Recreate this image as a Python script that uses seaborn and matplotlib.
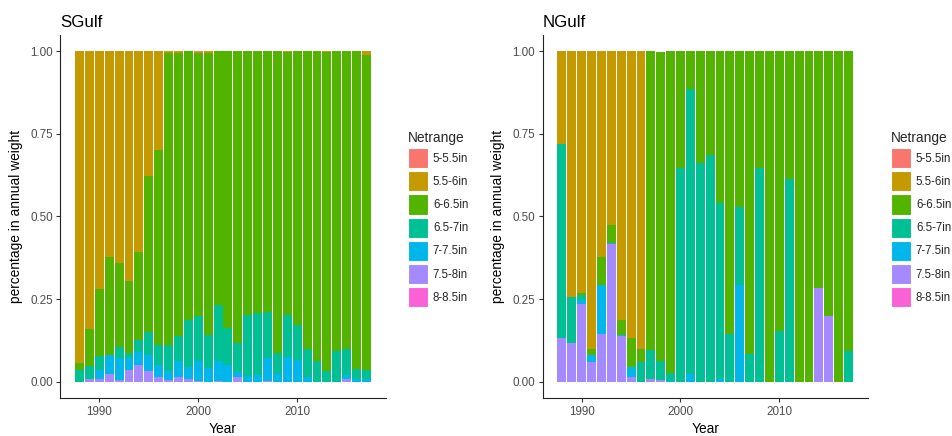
import matplotlib
matplotlib.use("Agg")
import matplotlib.pyplot as plt
from matplotlib.patches import Patch
import pandas as pd
import seaborn as sns

# ---- data: share of annual weight per net range, by year ----
years = list(range(1988, 2018))
netrange = ["5-5.5in", "5.5-6in", "6-6.5in", "6.5-7in", "7-7.5in", "7.5-8in", "8-8.5in"]
palette = ["#F8766D", "#C49A00", "#53B400", "#00C094", "#00B6EB", "#A58AFF", "#FB61D7"]

# SGulf
s_5_55 = [0, 0, 0, 0, 0, 0, 0, 0, 0, 0,
          0, 0, 0.002, 0, 0, 0, 0, 0, 0, 0,
          0, 0, 0, 0, 0, 0, 0, 0, 0, 0]
s_55_6 = [0.943, 0.842, 0.720, 0.622, 0.642, 0.695, 0.607, 0.378, 0.297, 0.005,
          0.004, 0, 0.003, 0.005, 0, 0, 0, 0, 0, 0,
          0, 0.003, 0, 0, 0, 0.003, 0, 0, 0, 0.011]
s_6_65 = [0.021, 0.111, 0.204, 0.297, 0.254, 0.219, 0.266, 0.473, 0.593, 0.884,
          0.858, 0.815, 0.798, 0.854, 0.768, 0.839, 0.882, 0.798, 0.792, 0.788,
          0.913, 0.795, 0.828, 0.903, 0.938, 0.965, 0.909, 0.903, 0.963, 0.953]
s_65_7 = [0.036, 0.040, 0.040, 0, 0.033, 0.015, 0.038, 0.068, 0.059, 0.080,
          0.076, 0.142, 0.135, 0.100, 0.170, 0.111, 0.088, 0.184, 0.187, 0.142,
          0.064, 0.128, 0.108, 0.084, 0.062, 0.032, 0.091, 0.076, 0.030, 0.029]
s_7_75 = [0, 0, 0.029, 0.059, 0.067, 0.035, 0.039, 0.048, 0.036, 0.027,
          0.049, 0.034, 0.059, 0.041, 0.059, 0.050, 0.017, 0.018, 0.021, 0.067,
          0.023, 0.074, 0.064, 0.013, 0, 0, 0, 0.014, 0.007, 0.007]
s_75_8 = [0, 0.007, 0.007, 0.022, 0.004, 0.036, 0.050, 0.033, 0.015, 0.004,
          0.013, 0.009, 0.003, 0, 0.003, 0, 0.013, 0, 0, 0.003,
          0, 0, 0, 0, 0, 0, 0, 0.007, 0, 0]
s_8_85 = [0] * 30

# NGulf
n_5_55 = [0] * 30
n_55_6 = [0.279, 0.743, 0.732, 0.901, 0.622, 0.525, 0.815, 0.867, 0.903, 0,
          0, 0, 0, 0, 0, 0, 0, 0, 0, 0,
          0, 0, 0, 0, 0, 0, 0, 0, 0, 0]
n_6_65 = [0, 0, 0.006, 0.018, 0.087, 0.055, 0.044, 0.088, 0.038, 0.906,
          0.938, 0.974, 0.352, 0.115, 0.338, 0.313, 0.459, 0.857, 0.472, 0.918,
          0.352, 1.0, 0.848, 0.387, 1.0, 1.0, 0.718, 0.803, 1.0, 0.908]
n_65_7 = [0.588, 0.140, 0.014, 0, 0, 0, 0, 0, 0.059, 0.085,
          0.058, 0.023, 0.648, 0.861, 0.662, 0.687, 0.532, 0.143, 0.235, 0.082,
          0.648, 0, 0.152, 0.613, 0, 0, 0, 0, 0, 0.092]
n_7_75 = [0.002, 0, 0.013, 0.022, 0.148, 0.004, 0.004, 0.031, 0, 0,
          0, 0.003, 0, 0.024, 0, 0, 0.009, 0, 0.293, 0,
          0, 0, 0, 0, 0, 0, 0, 0, 0, 0]
n_75_8 = [0.131, 0.117, 0.235, 0.059, 0.143, 0.416, 0.137, 0.014, 0, 0.009,
          0.004, 0, 0, 0, 0, 0, 0, 0, 0, 0,
          0, 0, 0, 0, 0, 0, 0.282, 0.197, 0, 0]
n_8_85 = [0] * 30

regions = {
    "SGulf": [s_5_55, s_55_6, s_6_65, s_65_7, s_7_75, s_75_8, s_8_85],
    "NGulf": [n_5_55, n_55_6, n_6_65, n_65_7, n_7_75, n_75_8, n_8_85],
}


def long_table(series):
    rows = []
    for label, vals in zip(netrange, series):
        for yr, v in zip(years, vals):
            rows.append({"Year": yr, "Netrange": label, "share": v})
    return pd.DataFrame(rows)


sns.set_style("white")
plt.rcParams["font.family"] = ["Liberation Sans", "DejaVu Sans"]

W, H = 952, 436
fig = plt.figure(figsize=(W / 100, H / 100), dpi=100)

axes_px = {"SGulf": (60.3, 35, 325.4, 363), "NGulf": (542.7, 35, 325.0, 363)}
legend_px = {"SGulf": (408, 131), "NGulf": (891, 131)}
color_map = dict(zip(netrange, palette))

for name, series in regions.items():
    x0, y0, w, h = axes_px[name]
    ax = fig.add_axes([x0 / W, 1 - (y0 + h) / H, w / W, h / H])
    df = long_table(series)
    sns.histplot(data=df, x="Year", weights="share", hue="Netrange",
                 hue_order=netrange, palette=color_map, multiple="stack",
                 discrete=True, shrink=0.9, linewidth=0, alpha=1,
                 legend=False, ax=ax)
    ax.set_xlim(1986.06, 2018.94)
    ax.set_ylim(-0.05, 1.05)
    ax.set_xticks([1990, 2000, 2010])
    ax.set_yticks([0, 0.25, 0.5, 0.75, 1.0])
    ax.set_yticklabels(["0.00", "0.25", "0.50", "0.75", "1.00"])
    ax.tick_params(axis="both", direction="out", length=3, width=0.8,
                   color="#333333", labelsize=8.4, labelcolor="#4D4D4D", pad=2.5,
                   bottom=True, left=True)
    for side in ("top", "right"):
        ax.spines[side].set_visible(False)
    for side in ("left", "bottom"):
        ax.spines[side].set_color("#222222")
        ax.spines[side].set_linewidth(0.8)
    ax.set_xlabel("Year", fontsize=9.9, color="black", labelpad=3)
    ax.set_ylabel("percentage in annual weight", fontsize=9.9, color="black", labelpad=5)
    ax.set_title(name, loc="left", fontsize=12.2, color="black", pad=6)

    handles = [Patch(facecolor=c, edgecolor="white", linewidth=0.8) for c in palette]
    lx, ly = legend_px[name]
    fig.legend(handles, netrange, title="Netrange", loc="upper left",
               bbox_to_anchor=(lx / W, 1 - ly / H), frameon=False,
               fontsize=8.3, title_fontsize=9.9, handlelength=1.76,
               handleheight=2.32, handletextpad=0.4, labelspacing=0.26,
               borderpad=0, borderaxespad=0, alignment="left")

fig.savefig("out.png", dpi=100)
